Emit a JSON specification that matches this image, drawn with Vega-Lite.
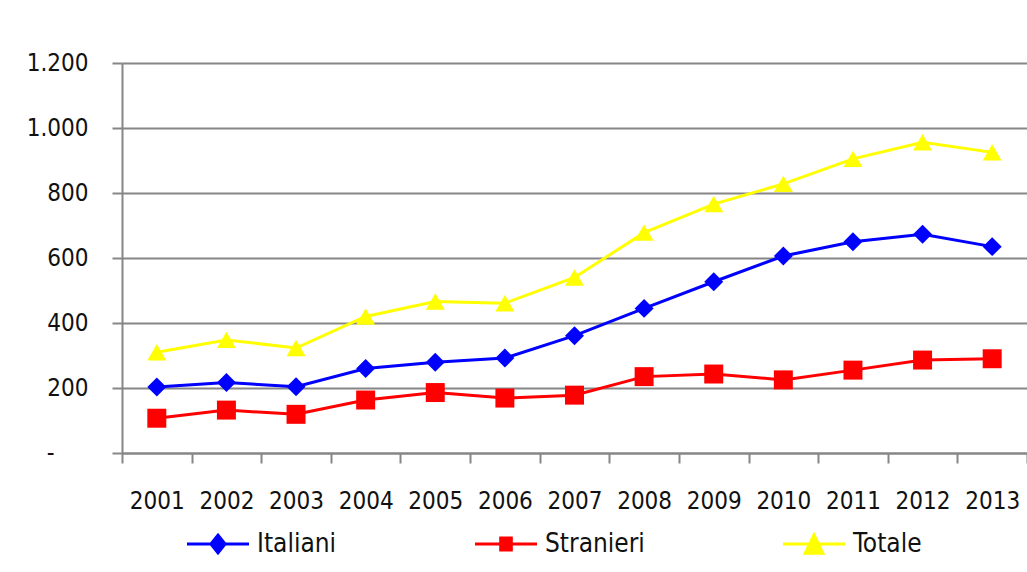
{
  "$schema": "https://vega.github.io/schema/vega-lite/v6.json",
  "width": 905,
  "height": 390,
  "autosize": {"type": "none"},
  "padding": {"left": 122, "top": 63, "right": 0, "bottom": 119},
  "background": "white",
  "config": {
    "view": {"stroke": null},
    "font": "DejaVu Sans Condensed, DejaVu Sans",
    "axis": {
      "labelFont": "DejaVu Sans Condensed, DejaVu Sans",
      "labelFontSize": 24,
      "labelColor": "#111111",
      "domainColor": "#868686",
      "domainWidth": 2,
      "tickColor": "#868686",
      "tickWidth": 2,
      "tickSize": 10,
      "gridColor": "#868686",
      "gridWidth": 2,
      "gridOpacity": 1,
      "title": null
    },
    "legend": {
      "labelFont": "DejaVu Sans Condensed, DejaVu Sans",
      "labelFontSize": 26,
      "labelColor": "#111111"
    }
  },
  "data": {
    "values": [
      {"anno": "2001", "serie": "Italiani", "valore": 203},
      {"anno": "2002", "serie": "Italiani", "valore": 217},
      {"anno": "2003", "serie": "Italiani", "valore": 204},
      {"anno": "2004", "serie": "Italiani", "valore": 260},
      {"anno": "2005", "serie": "Italiani", "valore": 279},
      {"anno": "2006", "serie": "Italiani", "valore": 292},
      {"anno": "2007", "serie": "Italiani", "valore": 361},
      {"anno": "2008", "serie": "Italiani", "valore": 445},
      {"anno": "2009", "serie": "Italiani", "valore": 527},
      {"anno": "2010", "serie": "Italiani", "valore": 606},
      {"anno": "2011", "serie": "Italiani", "valore": 650},
      {"anno": "2012", "serie": "Italiani", "valore": 673},
      {"anno": "2013", "serie": "Italiani", "valore": 635},
      {"anno": "2001", "serie": "Stranieri", "valore": 107},
      {"anno": "2002", "serie": "Stranieri", "valore": 132},
      {"anno": "2003", "serie": "Stranieri", "valore": 119},
      {"anno": "2004", "serie": "Stranieri", "valore": 163},
      {"anno": "2005", "serie": "Stranieri", "valore": 186},
      {"anno": "2006", "serie": "Stranieri", "valore": 169},
      {"anno": "2007", "serie": "Stranieri", "valore": 178},
      {"anno": "2008", "serie": "Stranieri", "valore": 235},
      {"anno": "2009", "serie": "Stranieri", "valore": 243},
      {"anno": "2010", "serie": "Stranieri", "valore": 225},
      {"anno": "2011", "serie": "Stranieri", "valore": 255},
      {"anno": "2012", "serie": "Stranieri", "valore": 286},
      {"anno": "2013", "serie": "Stranieri", "valore": 290},
      {"anno": "2001", "serie": "Totale", "valore": 310},
      {"anno": "2002", "serie": "Totale", "valore": 348},
      {"anno": "2003", "serie": "Totale", "valore": 323},
      {"anno": "2004", "serie": "Totale", "valore": 420},
      {"anno": "2005", "serie": "Totale", "valore": 466},
      {"anno": "2006", "serie": "Totale", "valore": 461},
      {"anno": "2007", "serie": "Totale", "valore": 540},
      {"anno": "2008", "serie": "Totale", "valore": 678},
      {"anno": "2009", "serie": "Totale", "valore": 766},
      {"anno": "2010", "serie": "Totale", "valore": 828},
      {"anno": "2011", "serie": "Totale", "valore": 905},
      {"anno": "2012", "serie": "Totale", "valore": 956},
      {"anno": "2013", "serie": "Totale", "valore": 925}
    ]
  },
  "encoding": {
    "x": {
      "field": "anno",
      "type": "ordinal",
      "scale": {"type": "band", "paddingInner": 0, "paddingOuter": 0},
      "axis": {
        "labelAngle": 0,
        "tickBand": "extent",
        "labelPadding": 26,
        "grid": false
      }
    },
    "y": {
      "field": "valore",
      "type": "quantitative",
      "scale": {"domain": [0, 1200], "nice": false},
      "axis": {
        "values": [0, 200, 400, 600, 800, 1000, 1200],
        "labelExpr": "datum.value == 0 ? '-' : replace(format(datum.value, ','), ',', '.')",
        "labelPadding": {"condition": {"test": "datum.value == 0", "value": 58}, "value": 24},
        "grid": true
      }
    }
  },
  "layer": [
    {
      "mark": {"type": "line", "strokeWidth": 3},
      "encoding": {
        "color": {
          "field": "serie",
          "type": "nominal",
          "scale": {"domain": ["Italiani", "Stranieri", "Totale"], "range": ["#0000ff", "#ff0000", "#ffff00"]},
          "legend": null
        }
      }
    },
    {
      "mark": {"type": "point", "filled": true, "opacity": 1, "size": 360},
      "encoding": {
        "color": {
          "field": "serie",
          "type": "nominal",
          "scale": {"domain": ["Italiani", "Stranieri", "Totale"], "range": ["#0000ff", "#ff0000", "#ffff00"]},
          "legend": null
        },
        "shape": {
          "field": "serie",
          "type": "nominal",
          "scale": {"domain": ["Italiani", "Stranieri", "Totale"], "range": ["diamond", "square", "triangle-up"]},
          "legend": null
        }
      }
    },
    {
      "transform": [{"filter": "false"}],
      "mark": {"type": "point", "filled": true, "opacity": 1},
      "encoding": {
        "color": {
          "field": "serie",
          "type": "nominal",
          "scale": {"domain": ["Italiani", "Stranieri", "Totale"], "range": ["#0000ff", "#ff0000", "#ffff00"]},
          "legend": {
            "orient": "none",
            "legendX": 65,
            "legendY": 450,
            "direction": "horizontal",
            "title": null,
            "symbolSize": 3844,
            "symbolStrokeWidth": 0,
            "labelOffset": 8,
            "columnPadding": 138,
            "padding": 0
          }
        },
        "shape": {
          "field": "serie",
          "type": "nominal",
          "scale": {
            "domain": ["Italiani", "Stranieri", "Totale"],
            "range": [
              "M-1,-0.05H1V0.05H-1Z M0,-0.36L0.29,0L0,0.36L-0.29,0Z",
              "M-1,-0.05H1V0.05H-1Z M-0.22,-0.24H0.22V0.24H-0.22Z",
              "M-1,-0.05H1V0.05H-1Z M0,-0.4L0.36,0.35H-0.36Z"
            ]
          },
          "legend": {
            "orient": "none",
            "legendX": 65,
            "legendY": 450,
            "direction": "horizontal",
            "title": null,
            "symbolSize": 3844,
            "symbolStrokeWidth": 0,
            "labelOffset": 8,
            "columnPadding": 138,
            "padding": 0
          }
        }
      }
    }
  ],
  "resolve": {
    "scale": {"shape": "independent"},
    "legend": {"shape": "independent", "color": "independent"}
  }
}
